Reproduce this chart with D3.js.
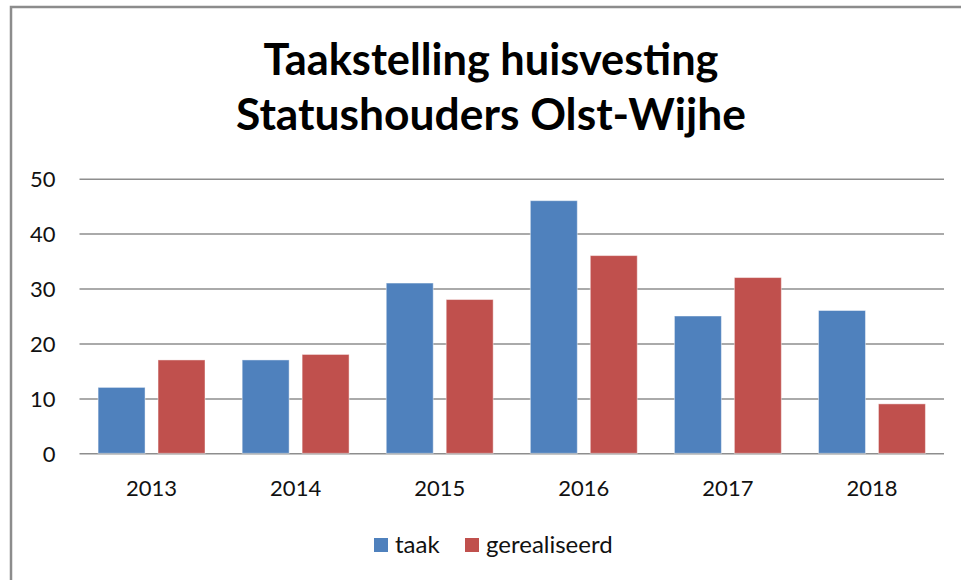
<!DOCTYPE html>
<html>
<head>
<meta charset="utf-8">
<script src="https://cdn.jsdelivr.net/npm/d3@7"></script>
<style>
  html, body { margin: 0; padding: 0; background: #fff; }
  svg { display: block; }
  text { font-family: Lato, "Open Sans", sans-serif; }
</style>
</head>
<body>
<svg id="chart" width="961" height="580"></svg>
<script>
const titleLines = ["Taakstelling huisvesting", "Statushouders Olst-Wijhe"];
const years = ["2013", "2014", "2015", "2016", "2017", "2018"];
const seriesNames = ["taak", "gerealiseerd"];
const taak = [12, 17, 31, 46, 25, 26];
const gerealiseerd = [17, 18, 28, 36, 32, 9];
const yTicks = [0, 10, 20, 30, 40, 50];
const colors = ["#4F81BD", "#C0504D"];

const values = [taak, gerealiseerd];
const rows = years.map((y, i) => ({ year: y, vals: seriesNames.map((s, j) => ({ key: s, value: values[j][i], idx: j })) }));

const svg = d3.select("#chart");

// outer frame (top and left edges visible)
svg.append("rect")
  .attr("x", 11).attr("y", 7)
  .attr("width", 980).attr("height", 600)
  .attr("fill", "#fff")
  .attr("stroke", "#8c8c8c").attr("stroke-width", 2.5);

const plot = { left: 79.5, right: 944, top: 178.7, bottom: 453.3 };

const x0 = d3.scaleBand().domain(years).range([plot.left, plot.right]).paddingInner(0).paddingOuter(0);
const x1 = d3.scaleBand().domain(seriesNames).range([0, x0.bandwidth()]).paddingInner(0.2167).paddingOuter(0.31);
const y = d3.scaleLinear().domain([0, 50]).range([plot.bottom, plot.top]);

// gridlines
const yAxis = d3.axisLeft(y).tickValues(yTicks).tickSize(-(plot.right - plot.left)).tickPadding(24);
const gy = svg.append("g").attr("transform", `translate(${plot.left},0)`).call(yAxis);
gy.select(".domain").remove();
gy.selectAll(".tick line").attr("stroke", "#8e8e8e").attr("stroke-width", 1.5);
gy.selectAll(".tick text")
  .attr("fill", "#111")
  .style("font-size", "22px")
  .attr("dy", "0.36em");

// bars
const groups = svg.append("g").selectAll("g").data(rows).join("g")
  .attr("transform", d => `translate(${x0(d.year)},0)`);
groups.selectAll("rect").data(d => d.vals).join("rect")
  .attr("x", d => x1(d.key))
  .attr("width", x1.bandwidth())
  .attr("y", d => y(d.value))
  .attr("height", d => y(0) - y(d.value))
  .attr("fill", d => colors[d.idx])
  .attr("stroke", "rgba(255,255,255,0.45)")
  .attr("stroke-width", 1);

// x axis
const xAxis = d3.axisBottom(x0).tickSize(0).tickPadding(27);
const gx = svg.append("g").attr("transform", `translate(0,${plot.bottom})`).call(xAxis);
gx.select(".domain").remove();
gx.selectAll(".tick text").attr("fill", "#111").style("font-size", "22px");

// title
const title = svg.append("g");
const targetWidths = [455, 510];
const baselines = [75, 130];
titleLines.forEach((t, i) => {
  const tx = title.append("text")
    .attr("x", 491).attr("y", baselines[i])
    .attr("text-anchor", "middle")
    .style("font-weight", "bold")
    .style("font-size", "44px")
    .attr("fill", "#000")
    .text(t);
  const w = tx.node().getComputedTextLength();
  if (w > 0) tx.style("font-size", (44 * targetWidths[i] / w).toFixed(2) + "px");
});

// legend
const legendItems = [
  { name: seriesNames[0], color: colors[0], x: 374 },
  { name: seriesNames[1], color: colors[1], x: 465 }
];
const lg = svg.append("g");
legendItems.forEach(it => {
  lg.append("rect").attr("x", it.x).attr("y", 538).attr("width", 14).attr("height", 14).attr("fill", it.color);
  lg.append("text").attr("x", it.x + 21).attr("y", 553).attr("fill", "#111").style("font-size", "24px").text(it.name);
});
</script>
</body>
</html>
